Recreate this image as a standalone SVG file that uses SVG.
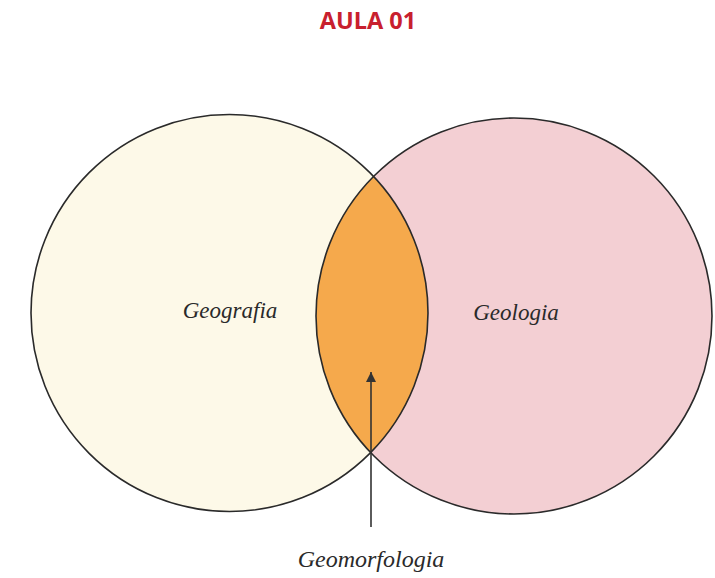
<svg xmlns="http://www.w3.org/2000/svg" width="715" height="578" viewBox="0 0 715 578">
<style>
.title{font-family:"Open Sans","Liberation Sans",sans-serif;font-weight:bold;font-size:23.5px;fill:#c8202e;text-anchor:middle}
.lbl{font-family:"Liberation Serif",serif;font-style:italic;fill:#2a2a2a;text-anchor:middle}
.ring{fill:none;stroke:#2a2a2a;stroke-width:1.6}
</style>
<defs>
<marker id="ah" viewBox="0 0 10 10" refX="10" refY="5" markerWidth="11" markerHeight="10" markerUnits="userSpaceOnUse" orient="auto">
<path d="M0,0 L10,5 L0,10 z" fill="#333"/>
</marker>
<clipPath id="clipL"><circle cx="229.5" cy="313" r="198.5"/></clipPath>
</defs>
<rect width="715" height="578" fill="#ffffff"/>
<text class="title" x="368" y="29">AULA 01</text>
<g id="geografia">
<circle cx="229.5" cy="313" r="198.5" fill="#fdf9e8"/>
</g>
<g id="geologia">
<circle cx="514" cy="316" r="198" fill="#f3cfd3"/>
</g>
<g id="geomorfologia-area">
<circle cx="514" cy="316" r="198" fill="#f5a94c" clip-path="url(#clipL)"/>
</g>
<circle class="ring" cx="229.5" cy="313" r="198.5"/>
<circle class="ring" cx="514" cy="316" r="198"/>
<text class="lbl" x="230" y="318" font-size="23">Geografia</text>
<text class="lbl" x="516" y="320" font-size="23">Geologia</text>
<g id="connectors">
<line x1="371" y1="527" x2="371" y2="372" stroke="#333" stroke-width="1.6" marker-end="url(#ah)"/>
</g>
<g id="geomorfologia-label">
<text class="lbl" x="371" y="567" font-size="24">Geomorfologia</text>
</g>
</svg>
